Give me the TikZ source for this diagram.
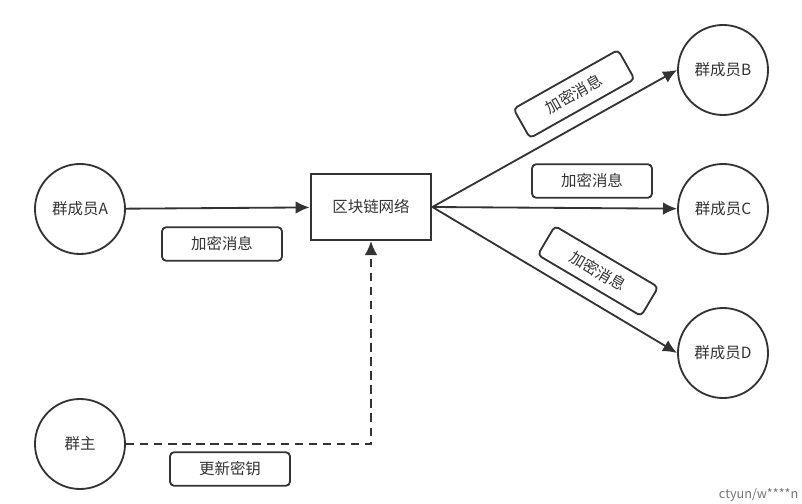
\documentclass[tikz,border=0pt]{standalone}
\usepackage{fontspec}
\setmainfont{Noto Sans CJK SC}
\usepackage{tikz}
\usetikzlibrary{arrows.meta,positioning,calc}

\begin{document}
\begin{tikzpicture}[x=0.025cm,y=-0.025cm,
  member/.style={draw=black!80,line width=1.3pt,circle,minimum size=2.25cm,inner sep=0pt,font=\fontsize{11}{13}\selectfont,text=black!80},
  netbox/.style={draw=black!80,line width=1.4pt,minimum width=3.02cm,minimum height=1.65cm,inner sep=0pt,font=\fontsize{11}{13}\selectfont,text=black!80},
  tag/.style={draw=black!80,fill=white,line width=1.3pt,rounded corners=3pt,minimum width=3cm,minimum height=0.84cm,inner sep=0pt,font=\fontsize{11}{13}\selectfont,text=black!80},
  flow/.style={draw=black!80,line width=1.3pt,-{Latex[length=10pt,width=9pt]}}]
 \useasboundingbox (0,0) rectangle (802,504);
 \node[member] (A) at (80,209) {群成员A};
 \node[netbox] (net) at (371,207) {区块链网络};
 \node[member] (B) at (723,70) {群成员B};
 \node[member] (C) at (723,209) {群成员C};
 \node[member] (D) at (723,353) {群成员D};
 \node[member] (owner) at (80,444) {群主};

 \draw[flow] (A) -- (net);
 \draw[flow] (net.east) -- (B.west);
 \draw[flow] (net.east) -- (C);
 \draw[flow] (net.east) -- (D.west);
 \draw[flow,dash pattern=on 6pt off 4pt] (owner.east) -| (net.south);

 \node[tag] (tagA) at (222,244) {加密消息};
 \node[tag,rotate=29.4] (tagB) at (574,94) {加密消息};
 \node[tag] (tagC) at (592,181) {加密消息};
 \node[tag,rotate=-30.6] (tagD) at (598,271) {加密消息};
 \node[tag] (tagKey) at (230,469) {更新密钥};

 \node[text=black!55,font=\fontsize{9}{11}\selectfont,anchor=south east,inner sep=1pt] (mark) at (800,503) {ctyun/w****n};
\end{tikzpicture}
\end{document}
